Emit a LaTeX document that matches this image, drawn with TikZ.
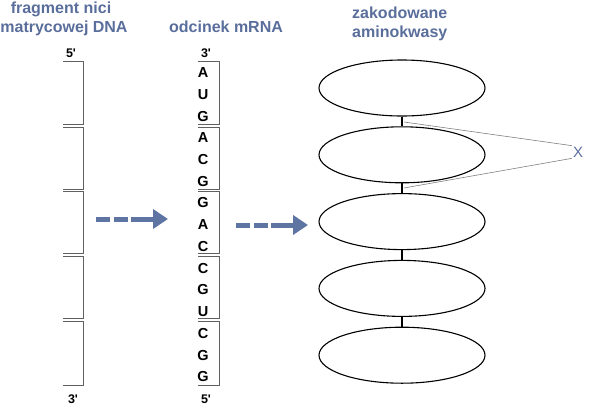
\documentclass[tikz,border=0pt]{standalone}
\usepackage{fontspec}
\setmainfont{Liberation Sans}[Ligatures=TeXOff]
\usetikzlibrary{arrows.meta,shapes.geometric}
\definecolor{titleblue}{HTML}{5A6E9C}
\definecolor{arrowblue}{HTML}{5E74A2}
\definecolor{brack}{HTML}{606060}
\tikzset{
  title/.style={font=\fontsize{16}{18}\selectfont\bfseries, text=titleblue, anchor=base, inner sep=0pt},
  endlbl/.style={font=\fontsize{12.5}{14}\selectfont\bfseries, anchor=base, inner sep=0pt},
  base/.style={font=\fontsize{14.5}{16}\selectfont\bfseries, anchor=base, inner sep=0pt},
  bracket/.style={draw=brack, line width=1pt},
  amino/.style={ellipse, draw, line width=1.1pt, minimum width=166pt, minimum height=56pt, inner sep=0pt},
  bond/.style={line width=1.3pt},
  xline/.style={draw=gray, line width=0.6pt},
  bigarrow/.style={draw=arrowblue, line width=5pt, dash pattern=on 14pt off 3.5pt on 14pt off 3.5pt on 60pt,
     -{Triangle[length=15pt,width=19pt]}},
}
\begin{document}
\begin{tikzpicture}[x=1pt,y=-1pt]
\useasboundingbox (0,0) rectangle (591,407);
% titles
\node[title] (t1) at (61,13) {fragment nici};
\node[title] (t2) at (64,32) {matrycowej DNA};
\node[title] (t3) at (226,32) {odcinek mRNA};
\node[title, anchor=base west] (t4) at (352,18) {zakodowane};
\node[title, anchor=base west] (t5) at (352,37) {aminokwasy};
% end labels
\node[endlbl] (d5) at (71,57) {5'};
\node[endlbl] (r3) at (206,57) {3'};
\node[endlbl] (d3) at (73,403) {3'};
\node[endlbl] (r5) at (206,403) {5'};
% DNA brackets
\foreach \i in {0,...,4}{
  \pgfmathsetmacro{\yt}{61+64.8*\i+(\i>0)*1.2}
  \pgfmathsetmacro{\yb}{61+64.8*(\i+1)-(\i<4)*1.5}
  \draw[bracket] (63,\yt) -- (83,\yt) -- (83,\yb) -- (63,\yb);
  \draw[bracket] (198,\yt) -- (219,\yt) -- (219,\yb) -- (198,\yb);
}
% mRNA bases
\foreach \c [count=\k from 0] in {A,U,G,A,C,G,G,A,C,C,G,U,C,G,G}{
  \pgfmathtruncatemacro{\i}{int(\k/3)}
  \pgfmathtruncatemacro{\j}{\k-3*\i}
  \pgfmathsetmacro{\yy}{77.5+65.2*\i+21.8*\j}
  \node[base] (b\k) at (203,\yy) {\c};
}
% arrows
\coordinate (a1s) at (96,219);
\coordinate (a1e) at (168,219);
\coordinate (a2s) at (236,225);
\coordinate (a2e) at (308,225);
\draw[bigarrow] (a1s) -- (a1e);
\draw[bigarrow] (a2s) -- (a2e);
% amino acids
\foreach \i in {1,...,5}{
  \node[amino] (e\i) at (402,{88+66.8*(\i-1)}) {};
}
\foreach \i/\j in {1/2,2/3,3/4,4/5}{
  \draw[bond] (e\i.south) -- (e\j.north);
}
% X
\node[font=\fontsize{15}{17}\selectfont, text=titleblue, inner sep=1pt] (X) at (578,152) {X};
\coordinate (p1) at (404,122);
\coordinate (p2) at (404,188);
\draw[xline] (p1) -- (X.north west);
\draw[xline] (p2) -- (X.south west);
\end{tikzpicture}
\end{document}
